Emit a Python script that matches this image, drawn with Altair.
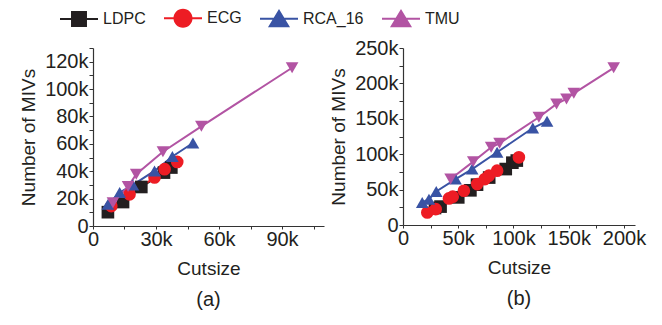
import altair as alt
import pandas as pd

FONT = "Liberation Sans"
INK = "#231f20"

series = ["LDPC", "ECG", "RCA_16", "TMU"]
colors = ["#231f20", "#ed1c24", "#3953a4", "#b254a3"]
plot_shapes = ["square", "circle", "triangle-up", "triangle-down"]

# ---- panel (a) ----
a_ldpc_x = [7100, 14300, 23000, 33800, 37300]
a_ldpc_y = [10100, 17500, 28500, 39000, 42700]
a_ecg_x = [8700, 17400, 29300, 34100, 40100]
a_ecg_y = [14500, 23100, 35400, 41500, 46800]
a_rca_x = [7100, 12700, 19000, 29300, 37800, 47600]
a_rca_y = [15800, 24400, 30000, 40200, 50800, 60600]
a_tmu_x = [9500, 16700, 20600, 33300, 51600, 94800]
a_tmu_y = [17000, 28800, 37800, 54200, 72800, 115600]

# ---- panel (b) ----
b_ldpc_x = [29000, 34000, 50000, 61000, 67000, 78000, 93000, 99000, 103000]
b_ldpc_y = [24000, 26000, 39000, 49000, 57000, 67000, 79000, 88000, 91000]
b_ecg_x = [22000, 29600, 41600, 45000, 55100, 67200, 74100, 77700, 85200, 104900]
b_ecg_y = [17700, 22400, 37500, 40000, 48400, 57800, 64900, 69700, 76700, 95600]
b_rca_x = [17400, 23500, 30100, 47600, 62600, 85200, 117500, 130400]
b_rca_y = [31900, 36500, 47400, 64900, 79000, 102700, 137000, 146600]
b_tmu_x = [43100, 63600, 79800, 87400, 123000, 139000, 148000, 154600, 190700]
b_tmu_y = [64900, 89500, 109700, 115400, 152200, 171000, 178000, 186000, 222000]


def long_frame(pairs):
    rows = []
    for name, xs, ys in pairs:
        for i, (xv, yv) in enumerate(zip(xs, ys)):
            rows.append({"series": name, "cut": xv, "miv": yv, "idx": i})
    return pd.DataFrame(rows)


df_a = long_frame([
    ("LDPC", a_ldpc_x, a_ldpc_y),
    ("ECG", a_ecg_x, a_ecg_y),
    ("RCA_16", a_rca_x, a_rca_y),
    ("TMU", a_tmu_x, a_tmu_y),
])
df_b = long_frame([
    ("LDPC", b_ldpc_x, b_ldpc_y),
    ("ECG", b_ecg_x, b_ecg_y),
    ("RCA_16", b_rca_x, b_rca_y),
    ("TMU", b_tmu_x, b_tmu_y),
])

# legend symbols: line through marker (path in [-1,1] box)
LINE = "M-1,-0.055H1V0.055H-1Z"
legend_paths = [
    LINE + "M-0.42,-0.42H0.42V0.42H-0.42Z",
    LINE + "M0.5,0A0.5,0.5,0,1,1,-0.5,0A0.5,0.5,0,1,1,0.5,0Z",
    LINE + "M0,-0.52L0.58,0.44H-0.58Z",
    LINE + "M0,-0.52L0.58,0.44H-0.58Z",
]


def panel(df, xmax, xstep, xlab, ymax, ystep, ylab, w, h, title, with_legend):
    xvals = list(range(0, xmax + 1, xstep))
    yvals = list(range(0, ymax + 1, ystep))
    x = alt.X(
        "cut:Q",
        scale=alt.Scale(domain=[0, xmax], nice=False),
        axis=alt.Axis(
            title="Cutsize", values=xvals,
            labelExpr=f"datum.value % {xlab} == 0 ? format(datum.value, '~s') : ''",
            labelOverlap=False, labelFlush=False, tickSize=3, labelPadding=0,
            titlePadding=10,
        ),
    )
    y = alt.Y(
        "miv:Q",
        scale=alt.Scale(domain=[0, ymax], nice=False),
        axis=alt.Axis(
            title="Number of MIVs", values=yvals,
            labelExpr=f"datum.value % {ylab} == 0 ? format(datum.value, '~s') : ''",
            labelOverlap=False, labelFlush=False, titlePadding=6,
        ),
    )
    cscale = alt.Scale(domain=series, range=colors)
    base = alt.Chart(df)
    lines = base.mark_line(strokeWidth=2).encode(
        x=x, y=y, color=alt.Color("series:N", scale=cscale, legend=None), order="idx:Q"
    )
    pts = base.mark_point(filled=True, opacity=1, size=160).encode(
        x=x, y=y,
        color=alt.Color("series:N", scale=cscale, legend=None),
        shape=alt.Shape("series:N", scale=alt.Scale(domain=series, range=plot_shapes), legend=None),
    )
    layers = [lines, pts]
    if with_legend:
        leg = alt.Legend(
            title=None, orient="none", legendX=-33, legendY=-49, direction="horizontal",
            symbolSize=1444, labelFontSize=16, labelFont=FONT, labelOffset=5,
            columnPadding=18, symbolStrokeWidth=0, labelColor=INK,
        )
        legend_layer = base.transform_filter("false").mark_point(filled=True, opacity=1).encode(
            x=x, y=y,
            color=alt.Color("series:N", scale=cscale, legend=leg),
            shape=alt.Shape("series:N", scale=alt.Scale(domain=series, range=legend_paths), legend=leg),
        )
        layers.append(legend_layer)
    ch = alt.layer(*layers).properties(
        width=w, height=h,
        title=alt.TitleParams(title, orient="bottom", fontSize=20, font=FONT,
                              fontWeight="normal", offset=12, color=INK),
    )
    if with_legend:
        ch = ch.resolve_scale(color="independent", shape="independent")
    return ch


left = panel(df_a, 110000, 15000, 30000, 130000, 10000, 20000, 231, 178, "(a)", True)
right = panel(df_b, 210000, 25000, 50000, 250000, 25000, 50000, 232, 177, "(b)", False)

chart = alt.hconcat(left, right, spacing=79, bounds="flush").configure(
    font=FONT,
).configure_view(stroke=None).configure_axis(
    grid=False, domainColor="#333333", tickColor="#333333", domainWidth=1.2,
    tickSize=4, labelFontSize=20, labelFont=FONT, labelColor=INK, labelPadding=1,
    titleFontSize=19, titleFont=FONT, titleFontWeight="normal", titleColor=INK,
).properties(padding={"left": 11, "top": -9, "right": 5, "bottom": 5})

chart.save("out.html", embed_options={"renderer": "svg", "actions": False})
